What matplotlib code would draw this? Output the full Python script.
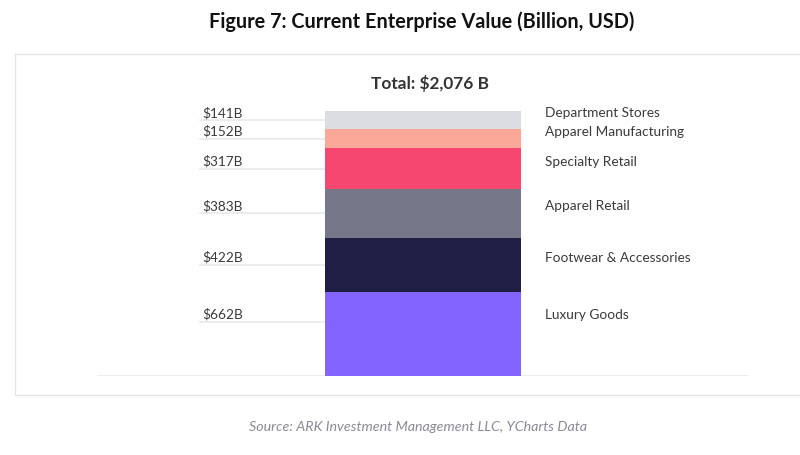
import matplotlib
matplotlib.use("Agg")
import matplotlib.pyplot as plt
from matplotlib.patches import Rectangle

plt.rcParams['font.family'] = ['Lato', 'DejaVu Sans']

categories = ["Luxury Goods", "Footwear & Accessories", "Apparel Retail",
              "Specialty Retail", "Apparel Manufacturing", "Department Stores"]
values = [662, 422, 383, 317, 152, 141]
value_labels = ["$662B", "$422B", "$383B", "$317B", "$152B", "$141B"]
colors = ["#8364fe", "#1f1f46", "#737787", "#f5476f", "#fba899", "#dcdde2"]
total_label = "Total: $2,076 B"

W, H = 800, 455
fig = plt.figure(figsize=(W / 100, H / 100), dpi=100)
fig.patch.set_facecolor("white")

# outer frame
fig.patches.append(Rectangle((15 / W, (H - 395) / H), 800 / W, 341 / H,
                             transform=fig.transFigure, fill=False,
                             edgecolor="#e4e4e8", linewidth=1.0))

ax = fig.add_axes([97 / W, (H - 376) / H, 651 / W, 265 / H])
total = sum(values)
ax.set_ylim(0, total)
ax.set_xlim(-1.663, 1.658)
for s in ax.spines.values():
    s.set_visible(False)
ax.set_xticks([])
ax.set_yticks([])
ax.axhline(0, color="#e8e8ee", linewidth=1.2, zorder=0)

bottom = 0
text_color = "#3a3a3a"
px_per_unit = 265 / total
for cat, v, lab, c in zip(categories, values, value_labels, colors):
    ax.bar(0, v, width=1.0, bottom=bottom, color=c, edgecolor="none", zorder=2)
    top = bottom + v
    mid = bottom + v / 2
    line_y = max(mid, top - 30 / px_per_unit)
    text_y = line_y + 7 / px_per_unit
    ax.plot([-1.138, -0.5], [line_y, line_y], color="#e8e8ee", linewidth=1.2, zorder=1)
    ax.text(-1.128, text_y, lab, ha="left", va="center", fontsize=9.85,
            color=text_color)
    ax.text(0.622, text_y, cat, ha="left", va="center", fontsize=9.85,
            color=text_color)
    bottom = top

fig.text(430 / W, 1 - 83 / H, total_label, ha="center", va="center",
         fontsize=12.4, fontweight="bold", color="#333333")
fig.text(422 / W, 1 - 22 / H, "Figure 7: Current Enterprise Value (Billion, USD)",
         ha="center", va="center", fontsize=14.3, fontweight="bold", color="#111111")
fig.text(418 / W, 1 - 427 / H, "Source: ARK Investment Management LLC, YCharts Data",
         ha="center", va="center", fontsize=10.3, style="italic", color="#8a8a96")

fig.savefig("out.png", dpi=100, facecolor="white")
